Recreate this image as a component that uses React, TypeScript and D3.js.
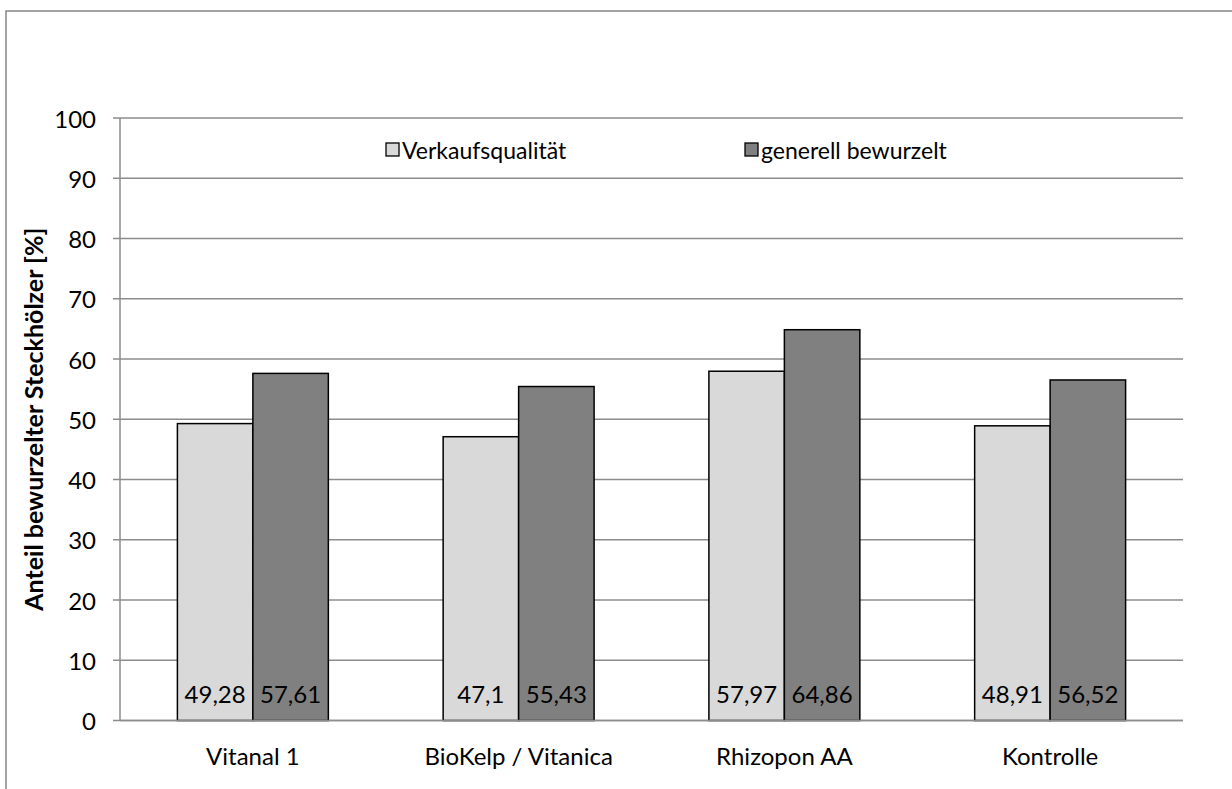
import * as d3 from "d3";

const categories = ["Vitanal 1", "BioKelp / Vitanica", "Rhizopon AA", "Kontrolle"];
const seriesNames = ["Verkaufsqualität", "generell bewurzelt"];
const verkaufsqualitaet = [49.28, 47.1, 57.97, 48.91];
const generellBewurzelt = [57.61, 55.43, 64.86, 56.52];
const yTicks = [0, 10, 20, 30, 40, 50, 60, 70, 80, 90, 100];
const colors = ["#d9d9d9", "#808080"];

const W = 1232;
const H = 789;
const left = 120;
const right = 1183;
const top = 118;
const bottom = 720.5;
const font = "Lato, 'Open Sans', sans-serif";

export default function App() {
  const x0 = d3.scaleBand<string>().domain(categories).range([left, right]).padding(0);
  const barW = x0.bandwidth() * 0.284;
  const x1 = d3
    .scaleBand<string>()
    .domain(seriesNames)
    .range([-barW, barW])
    .padding(0);
  const y = d3.scaleLinear().domain([0, 100]).range([bottom, top]);

  const series = [verkaufsqualitaet, generellBewurzelt];
  const fmt = (v: number) => String(v).replace(".", ",");

  return (
    <svg
      width={W}
      height={H}
      style={{ position: "absolute", left: 0, top: 0, background: "#fff" }}
    >
      {/* outer chart border */}
      <rect x={6} y={11} width={W + 20} height={H + 20} fill="none" stroke="#868686" strokeWidth={1.5} />

      {/* gridlines + ticks */}
      {yTicks.map((t) => (
        <g key={t}>
          <line x1={113} x2={right} y1={y(t)} y2={y(t)} stroke="#8c8c8c" strokeWidth={1.5} />
          <text
            x={96}
            y={y(t)}
            textAnchor="end"
            dominantBaseline="central"
            fontFamily={font}
            fontSize={24}
            fill="#000"
          >
            {t}
          </text>
        </g>
      ))}
      <line x1={left} x2={left} y1={top} y2={bottom} stroke="#8c8c8c" strokeWidth={1.5} />

      {/* bars */}
      {categories.map((c, i) => {
        const cx = x0(c)! + x0.bandwidth() / 2;
        return (
          <g key={c}>
            {seriesNames.map((s, j) => {
              const v = series[j][i];
              const bx = cx + x1(s)!;
              return (
                <g key={s}>
                  <rect
                    x={bx}
                    y={y(v)}
                    width={x1.bandwidth()}
                    height={bottom - y(v)}
                    fill={colors[j]}
                    stroke="#000"
                    strokeWidth={1.5}
                  />
                  <text
                    x={bx + x1.bandwidth() / 2}
                    y={693}
                    textAnchor="middle"
                    dominantBaseline="central"
                    fontFamily={font}
                    fontSize={24}
                    fill="#000"
                  >
                    {fmt(v)}
                  </text>
                </g>
              );
            })}
            <text
              x={cx}
              y={755}
              textAnchor="middle"
              dominantBaseline="central"
              fontFamily={font}
              fontSize={24}
              fill="#000"
            >
              {c}
            </text>
          </g>
        );
      })}
      <line x1={left} x2={right} y1={bottom} y2={bottom} stroke="#8c8c8c" strokeWidth={1.5} />

      {/* legend */}
      {seriesNames.map((s, j) => {
        const lx = j === 0 ? 386 : 745;
        return (
          <g key={s}>
            <rect x={lx} y={143} width={13} height={13} fill={colors[j]} stroke="#000" strokeWidth={1.3} />
            <text
              x={lx + 16}
              y={150}
              dominantBaseline="central"
              fontFamily={font}
              fontSize={23}
              fill="#000"
            >
              {s}
            </text>
          </g>
        );
      })}

      {/* y axis title */}
      <text
        transform={`translate(33,${(top + bottom) / 2}) rotate(-90)`}
        textAnchor="middle"
        dominantBaseline="central"
        fontFamily={font}
        fontSize={25}
        fontWeight="bold"
        fill="#000"
      >
        Anteil bewurzelter Steckhölzer [%]
      </text>
    </svg>
  );
}
